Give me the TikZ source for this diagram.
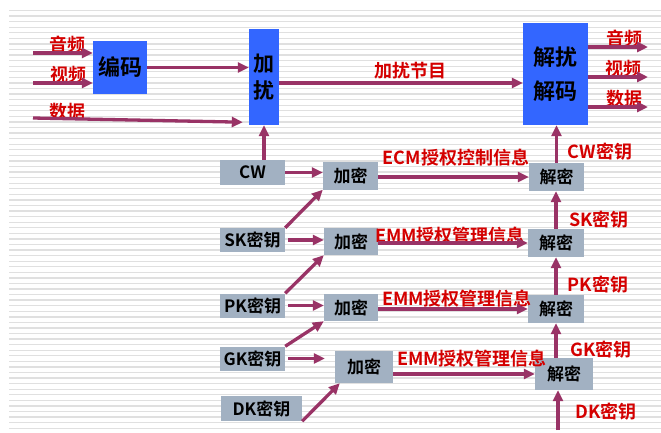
\documentclass[tikz,border=0pt]{standalone}
\usepackage{fontspec}
\setmainfont{Noto Sans CJK SC}[BoldFont={Noto Sans CJK SC Bold}]
\usepackage{tikz}
\usetikzlibrary{positioning, arrows.meta}
\definecolor{flowred}{HTML}{993366}
\definecolor{lblred}{HTML}{D40000}
\definecolor{boxblue}{HTML}{3366FF}
\definecolor{boxgray}{HTML}{A2B1C2}
\definecolor{stripegray}{HTML}{E0E0E0}

\begin{document}
\begin{tikzpicture}[x=1pt, y=-1pt,
		bluebox/.style={fill=boxblue, inner sep=0pt, align=center, font=\bfseries\fontsize{22}{34}\selectfont},
		graybox/.style={fill=boxgray, inner sep=0pt, minimum width=65pt, minimum height=24pt, font=\bfseries\fontsize{17}{20}\selectfont},
		keybox/.style={fill=boxgray, inner sep=0pt, minimum width=55pt, minimum height=28pt, font=\bfseries\fontsize{17}{20}\selectfont},
		lbl/.style={text=lblred, inner sep=0pt, font=\bfseries\fontsize{18}{20}\selectfont},
		flow/.style={draw=flowred, line width=3.3pt, -{Triangle[length=11pt, width=10pt]}},
		stripe/.style={draw=stripegray, line width=1.3pt}
	]
	\fill[white] (0,0) rectangle (661,432);
	\useasboundingbox (0,0) rectangle (661,432);
	\foreach \y in {10.5,16.07,...,431} {
		\draw[stripe] (9,\y) -- (661,\y);
	}

	% blue boxes
	\node[bluebox, minimum width=54pt, minimum height=53pt] (enc) at (120,67.5) {编码};
	\node[bluebox, minimum width=30pt, minimum height=96pt, font=\bfseries\fontsize{21}{27}\selectfont] (scr) at (264,77) {加\\扰};
	\node[bluebox, minimum width=65pt, minimum height=102pt] (dec) at (555.5,74) {解扰\\解码};

	% keys
	\node[graybox, minimum height=25pt] (cw) at (252.5,172.5) {CW};
	\node[graybox] (sk) at (252.5,240) {SK密钥};
	\node[graybox] (pk) at (252.5,305.5) {PK密钥};
	\node[graybox] (gk) at (252.5,358.5) {GK密钥};
	\node[graybox, minimum width=81pt, minimum height=25pt] (dk) at (261.5,408.5) {DK密钥};

	\node[keybox] (enc1) at (350.5,175.5) {加密};
	\node[keybox, minimum width=54pt, minimum height=27pt] (enc2) at (351,241.5) {加密};
	\node[keybox, minimum width=54pt, minimum height=27pt] (enc3) at (351,307.5) {加密};
	\node[keybox, minimum width=58pt, minimum height=32pt] (enc4) at (364,367) {加密};

	\node[keybox] (dc1) at (556.5,177) {解密};
	\node[keybox, minimum width=56pt] (dc2) at (556,243) {解密};
	\node[keybox, minimum width=56pt] (dc3) at (556,309) {解密};
	\node[keybox, minimum width=58pt, minimum height=32pt] (dc4) at (564,374) {解密};

	% free ends
	\coordinate (ain) at (33,53);
	\coordinate (vin) at (33,83);
	\coordinate (din) at (33,118);
	\coordinate (aout) at (648,47);
	\coordinate (vout) at (648,77);
	\coordinate (dout) at (648,107);
	\coordinate (dkin) at (558,430);

	% labels
	\node[lbl] (ain-l) at (67,45) {音频};
	\node[lbl] (vin-l) at (68,75) {视频};
	\node[lbl] (din-l) at (67,112) {数据};
	\node[lbl] (aout-l) at (624,39) {音频};
	\node[lbl] (vout-l) at (623,69) {视频};
	\node[lbl] (dout-l) at (624,99) {数据};
	\node[lbl] (prog-l) at (410,71) {加扰节目};
	\node[lbl] (ecm-l) at (456,158) {ECM授权控制信息};
	\node[lbl] (emm1-l) at (450,236) {EMM授权管理信息};
	\node[lbl] (emm2-l) at (457,299) {EMM授权管理信息};
	\node[lbl] (emm3-l) at (472,359) {EMM授权管理信息};
	\node[lbl] (cwk-l) at (600,152) {CW密钥};
	\node[lbl] (skk-l) at (599,220) {SK密钥};
	\node[lbl] (pkk-l) at (598,285) {PK密钥};
	\node[lbl] (gkk-l) at (601,350) {GK密钥};
	\node[lbl] (dkk-l) at (606,412) {DK密钥};

	% connectors
	\draw[flow] (ain) -- (ain -| enc.west);
	\draw[flow] (vin) -- (vin -| enc.west);
	\draw[flow] (din) -- ([shift={(-6,-3)}]scr.south west);
	\draw[flow] (enc.east) -- (enc.east -| scr.west);
	\draw[flow] ([yshift=-6pt]scr.east) -- ([yshift=-6pt]scr.east -| dec.west);
	\draw[flow] (dec.east |- aout) -- (aout);
	\draw[flow] (dec.east |- vout) -- (vout);
	\draw[flow] (dec.east |- dout) -- (dout);
	\draw[flow] (cw.north -| scr.south) -- (scr.south);

	\draw[flow] (cw.east) -- (cw.east -| enc1.west);
	\draw[flow] (sk.north east) -- (enc1.south west);
	\draw[flow, shorten <=3pt] (sk.east) -- (sk.east -| enc2.west);
	\draw[flow] (pk.north east) -- (enc2.south west);
	\draw[flow, shorten <=3pt] (pk.east) -- (pk.east -| enc3.west);
	\draw[flow] (gk.north east) -- (enc3.south west);
	\draw[flow, shorten <=3pt, shorten >=10pt] (gk.east) -- (gk.east -| enc4.west);
	\draw[flow] (dk.south east) -- ([xshift=5pt]enc4.south west);

	\draw[flow] (enc1.east |- dc1) -- (dc1.west);
	\draw[flow] (enc2.east |- dc2) -- (dc2.west);
	\draw[flow] (enc3.east |- dc3) -- (dc3.west);
	\draw[flow] (enc4.east |- dc4) -- (dc4.west);

	\draw[flow] (dc1.north) -- (dc1.north |- dec.south);
	\draw[flow] (dc2.north) -- (dc2.north |- dc1.south);
	\draw[flow] (dc3.north) -- (dc3.north |- dc2.south);
	\draw[flow] (dc4.north -| dc3.south) -- (dc3.south);
	\draw[flow] (dkin) -- (dkin |- dc4.south);
\end{tikzpicture}
\end{document}
